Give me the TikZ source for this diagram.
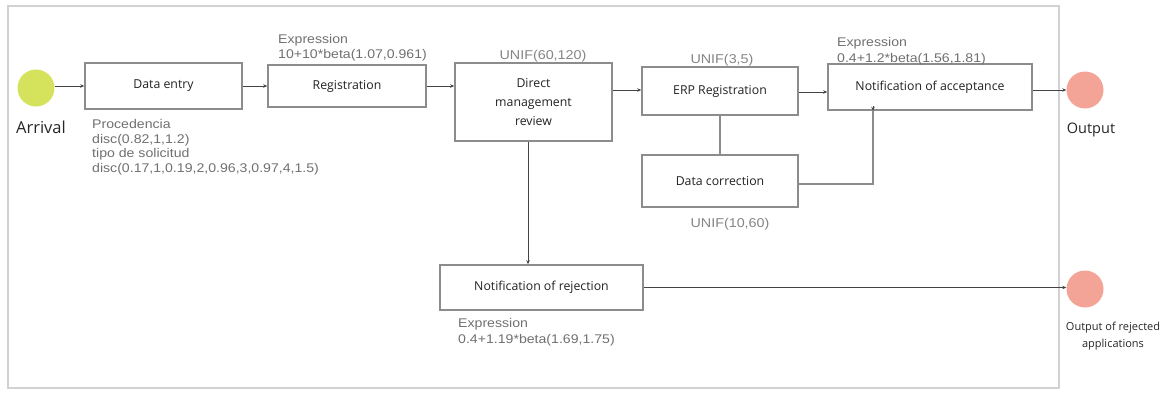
\documentclass[tikz,border=0pt]{standalone}
\usepackage{fontspec}
\setmainfont{Open Sans}
\newfontfamily\lblfont[FakeStretch=1.12]{Liberation Sans}
\usetikzlibrary{arrows.meta}
\definecolor{boxline}{HTML}{8C8C8C}
\definecolor{frameline}{HTML}{D2D2D2}
\definecolor{lbl}{HTML}{707070}
\definecolor{unif}{HTML}{858585}
\definecolor{txt}{HTML}{222222}
\definecolor{arrcol}{HTML}{D5E35C}
\definecolor{outcol}{HTML}{F4A497}
\definecolor{conn}{HTML}{444444}
\tikzset{
  x=1pt, y=-1pt,
  proc/.style={draw=boxline, line width=1.6pt, fill=white, inner sep=0pt, text=txt,
    font=\fontsize{12.3}{19}\selectfont, align=center},
  lab/.style={anchor=base west, inner sep=0pt, text=lbl, font=\lblfont\fontsize{12.6}{15}\selectfont},
  ulab/.style={anchor=base, inner sep=0pt, text=unif, font=\lblfont\fontsize{12.8}{15}\selectfont},
  ev/.style={circle, inner sep=0pt, minimum size=37pt},
  flow/.style={draw=conn, line width=0.8pt, -{Stealth[length=4pt,width=3.5pt]}},
  gflow/.style={draw=boxline, line width=1.4pt},
}
\begin{document}
\begin{tikzpicture}
\useasboundingbox (0,0) rectangle (1164,392);
% frame
\draw[frameline, line width=2pt] (8,6) rectangle (1059,388);

% events
\node[ev, fill=arrcol] (arr) at (36,88) {};
\node[anchor=base, inner sep=0pt, text=black!85, font=\fontsize{16.5}{18}\selectfont] (arrl) at (41,133) {Arrival};
\node[ev, fill=outcol] (out) at (1085,90) {};
\node[anchor=base, inner sep=0pt, text=black!85, font=\fontsize{14.5}{16}\selectfont] (outl) at (1091,133) {Output};
\node[ev, fill=outcol] (rej) at (1085,289) {};
\node[anchor=north, inner sep=0pt, text=black!85, align=center, font=\fontsize{11}{17}\selectfont] (rejl) at (1113,322) {Output of rejected\\applications};

% processes
\node[proc, minimum width=157pt, minimum height=46pt] (de) at (163.5,86) {Data entry};
\node[proc, minimum width=158pt, minimum height=42pt] (reg) at (347,86) {Registration};
\node[proc, minimum width=157pt, minimum height=78pt] (dmr) at (533.5,102) {Direct\\management\\review};
\node[proc, minimum width=156pt, minimum height=48pt] (erp) at (720,91) {ERP Registration};
\node[proc, minimum width=156pt, minimum height=52pt] (dc) at (720,181) {Data correction};
\node[proc, minimum width=204pt, minimum height=46pt] (acc) at (930,87) {Notification of acceptance};
\node[proc, minimum width=203pt, minimum height=45pt] (nrj) at (541.5,287.5) {Notification of rejection};

% labels
\node[lab] (p1) at (92,128) {Procedencia};
\node[lab] (p2) at (92,143) {disc(0.82,1,1.2)};
\node[lab] (p3) at (92,157.5) {tipo de solicitud};
\node[lab] (p4) at (92,172) {disc(0.17,1,0.19,2,0.96,3,0.97,4,1.5)};
\node[lab] (r1) at (278,43.5) {Expression};
\node[lab] (r2) at (278,58) {10+10*beta(1.07,0.961)};
\node[ulab] (u1) at (543,59.5) {UNIF(60,120)};
\node[ulab] (u2) at (722,63) {UNIF(3,5)};
\node[ulab] (u3) at (730,227) {UNIF(10,60)};
\node[lab] (a1) at (837,46) {Expression};
\node[lab] (a2) at (837,62) {0.4+1.2*beta(1.56,1.81)};
\node[lab] (n1) at (458,327) {Expression};
\node[lab] (n2) at (458,343) {0.4+1.19*beta(1.69,1.75)};

% connectors
\draw[flow] (arr.east |- de.west) -- (de.west);
\draw[flow] (de.east |- reg.west) -- (reg.west);
\draw[flow] (reg.east) -- (reg.east -| dmr.west);
\draw[flow] ([yshift=1pt]dmr.east |- erp.west) -- ([yshift=1pt]erp.west);
\draw[flow] ([yshift=-1pt]erp.east) -- ([yshift=-1pt]erp.east -| acc.west);
\draw[flow] (acc.east |- out.west) -- (out.west);
\draw[gflow] (erp.south) -- (dc.north);
\coordinate (dcc) at (873,184);
\draw[gflow] (dc.east |- dcc) -- (dcc) -- (dcc |- acc.south);
\draw[flow] ([yshift=5pt]dcc |- acc.south) -- (dcc |- acc.south);
\draw[flow] (dmr.south -| 528,0) -- (nrj.north -| 528,0);
\draw[flow] (nrj.east) -- (nrj.east -| rej.west);
\end{tikzpicture}
\end{document}
